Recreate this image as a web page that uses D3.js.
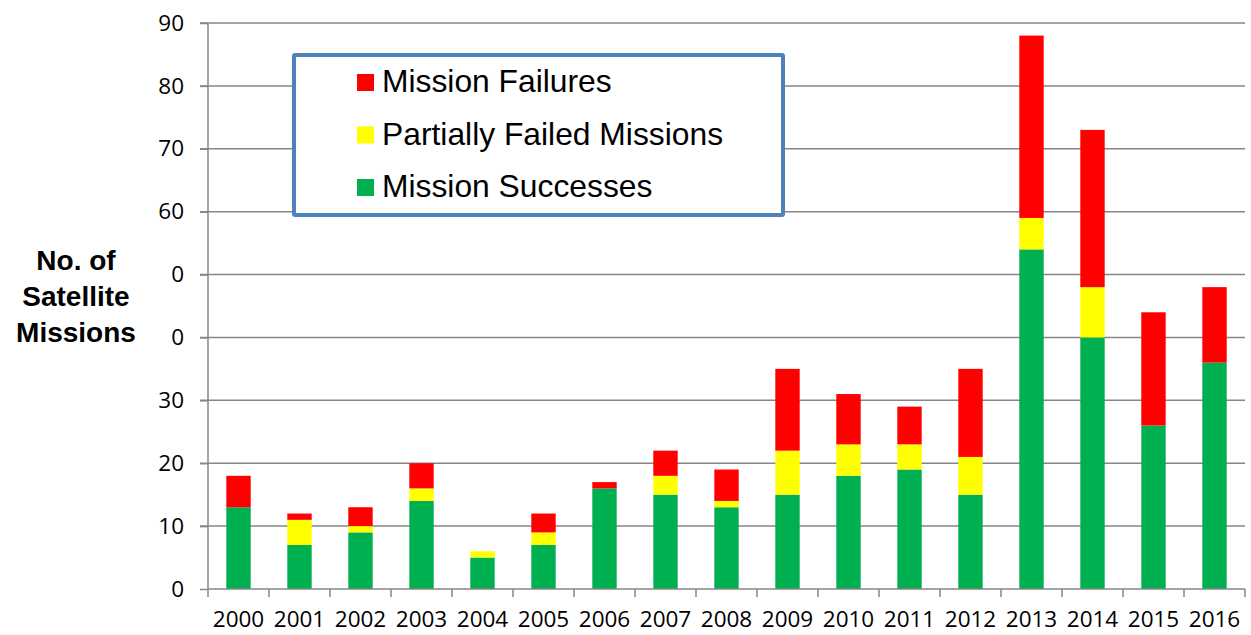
<!DOCTYPE html>
<html>
<head>
<meta charset="utf-8">
<script src="https://cdn.jsdelivr.net/npm/d3@7"></script>
<style>
  html, body { margin: 0; padding: 0; background: #fff; }
  svg { display: block; }
</style>
</head>
<body>
<svg id="chart" width="1251" height="635"></svg>
<script>
// ---- data ----
const years = ["2000","2001","2002","2003","2004","2005","2006","2007","2008","2009","2010","2011","2012","2013","2014","2015","2016"];
const successes = [13, 7, 9, 14, 5, 7, 16, 15, 13, 15, 18, 19, 15, 54, 40, 26, 36];
const partial   = [0, 4, 1, 2, 1, 2, 0, 3, 1, 7, 5, 4, 6, 5, 8, 0, 0];
const failures  = [5, 1, 3, 4, 0, 3, 1, 4, 5, 13, 8, 6, 14, 29, 25, 18, 12];
const yTicks = [0, 10, 20, 30, 40, 50, 60, 70, 80, 90];
const seriesNames = ["Mission Failures", "Partially Failed Missions", "Mission Successes"];
const seriesColors = ["#FF0000", "#FFFF00", "#00B050"];
const yTitleLines = ["No. of", "Satellite", "Missions"];

// ---- layout ----
const svg = d3.select("#chart");
const mL = 208, mR = 1245, mT = 23, mB = 589;
const gridColor = "#868686";
const tickFont = "'Open Sans', Lato, sans-serif";
const tickSize = 22.5;

const x = d3.scaleBand().domain(years).range([mL, mR]).paddingInner(0.6).paddingOuter(0.3);
const xTicks = d3.scaleBand().domain(years).range([mL, mR]);
const y = d3.scaleLinear().domain([0, 90]).range([mB, mT]);

// gridlines
svg.append("g").selectAll("line").data(yTicks.filter(d => d > 0)).join("line")
  .attr("x1", mL - 8).attr("x2", mR)
  .attr("y1", d => y(d)).attr("y2", d => y(d))
  .attr("stroke", gridColor).attr("stroke-width", 1.5);

// y axis
const yAxis = svg.append("g").attr("transform", `translate(${mL},0)`)
  .call(d3.axisLeft(y).tickValues(yTicks).tickSize(8).tickPadding(16).tickFormat(d3.format("d")));
yAxis.select(".domain").attr("stroke", gridColor).attr("stroke-width", 1.5).attr("d", `M0,${mT}V${mB}`);
yAxis.selectAll(".tick line").attr("stroke", gridColor).attr("stroke-width", 1.5);
yAxis.selectAll(".tick text").attr("font-family", tickFont).attr("font-size", tickSize).attr("fill", "#000");

// bars (stacked)
const rows = years.map((yr, i) => ({ year: yr, s: successes[i], p: partial[i], f: failures[i] }));
const stack = d3.stack().keys(["s", "p", "f"])(rows);
const keyColor = { s: seriesColors[2], p: seriesColors[1], f: seriesColors[0] };
svg.append("g").selectAll("g").data(stack).join("g")
  .attr("fill", d => keyColor[d.key])
  .selectAll("rect").data(d => d.filter(v => v[1] > v[0])).join("rect")
  .attr("x", d => x(d.data.year))
  .attr("width", x.bandwidth())
  .attr("y", d => y(d[1]))
  .attr("height", d => y(d[0]) - y(d[1]));

// x axis
const xAxis = svg.append("g").attr("transform", `translate(0,${mB})`)
  .call(d3.axisBottom(xTicks).tickSize(0).tickPadding(22));
xAxis.select(".domain").attr("stroke", gridColor).attr("stroke-width", 1.5).attr("d", `M${mL},0H${mR}`);
xAxis.selectAll(".tick text").attr("font-family", tickFont).attr("font-size", tickSize).attr("fill", "#000");
// boundary tick marks between categories
svg.append("g").selectAll("line").data(years.concat(["end"])).join("line")
  .attr("x1", (d, i) => mL + i * xTicks.step()).attr("x2", (d, i) => mL + i * xTicks.step())
  .attr("y1", mB).attr("y2", mB + 8)
  .attr("stroke", gridColor).attr("stroke-width", 1.5);

// y-axis title with white background (covers part of tick labels like the original)
svg.append("rect").attr("x", 6).attr("y", 236).attr("width", 166).attr("height", 122).attr("fill", "#fff");
svg.append("text")
  .attr("text-anchor", "middle").attr("font-family", "'Liberation Sans', Arial, sans-serif")
  .attr("font-weight", "bold").attr("font-size", 28).attr("fill", "#000")
  .selectAll("tspan").data(yTitleLines).join("tspan")
  .attr("x", 76).attr("y", (d, i) => 269.5 + i * 36.2).text(d => d);

// legend
const lg = svg.append("g");
lg.append("rect").attr("x", 294).attr("y", 55).attr("width", 489).attr("height", 160)
  .attr("fill", "#fff").attr("stroke", "#4F81BD").attr("stroke-width", 4).attr("rx", 1);
const li = lg.selectAll("g.item").data(seriesNames).join("g").attr("class", "item")
  .attr("transform", (d, i) => `translate(357,${92 + i * 52.5})`);
li.append("rect").attr("x", 0).attr("y", -18).attr("width", 17).attr("height", 17)
  .attr("fill", (d, i) => seriesColors[i]);
li.append("text").attr("x", 25).attr("y", 0)
  .attr("font-family", "'Liberation Sans', Arial, sans-serif").attr("font-size", 31.8).attr("fill", "#000")
  .text(d => d);
</script>
</body>
</html>
